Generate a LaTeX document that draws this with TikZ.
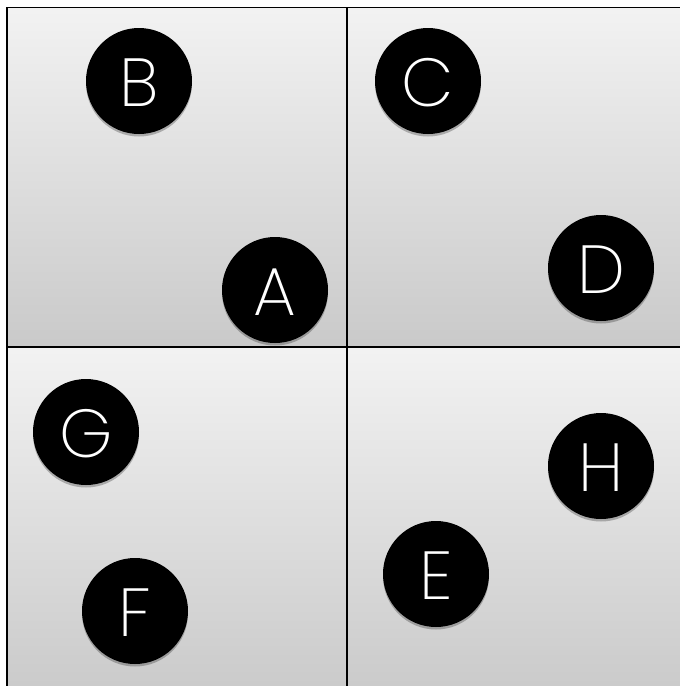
\documentclass[tikz,border=0pt]{standalone}
\usepackage{fontspec}
\setmainfont{Poppins ExtraLight}
\usetikzlibrary{shadows,shadings}
\tikzset{
  panel/.style={draw=black, line width=1.6pt, top color=black!5, bottom color=black!21},
  ball/.style={circle, fill=black, minimum size=106pt, inner sep=0pt,
    drop shadow={shadow xshift=0pt, shadow yshift=-2.5pt, opacity=0.25, fill=black}},
  lbl/.style={text=white, font=\fontsize{68}{68}\selectfont, anchor=base, inner sep=0pt},
}
\begin{document}
\begin{tikzpicture}[x=1pt,y=-1pt]
\useasboundingbox (0,0) rectangle (680,686);
\fill[white] (0,0) rectangle (680,686);
\path[panel] (7,7.5) rectangle (347,347);
\path[panel] (347,7.5) rectangle (692,347);
\path[panel] (7,347) rectangle (347,698);
\path[panel] (347,347) rectangle (692,698);
\foreach \n/\x/\y in {B/139/81, C/428/81, A/275/290, D/601/268, G/86/432, F/135/611, H/601/466, E/436/574}{
  \node[ball] (\n) at (\x,\y) {};
  \node[lbl] (\n-t) at ([yshift=-25pt]\n.center) {\n};
}
\end{tikzpicture}
\end{document}
